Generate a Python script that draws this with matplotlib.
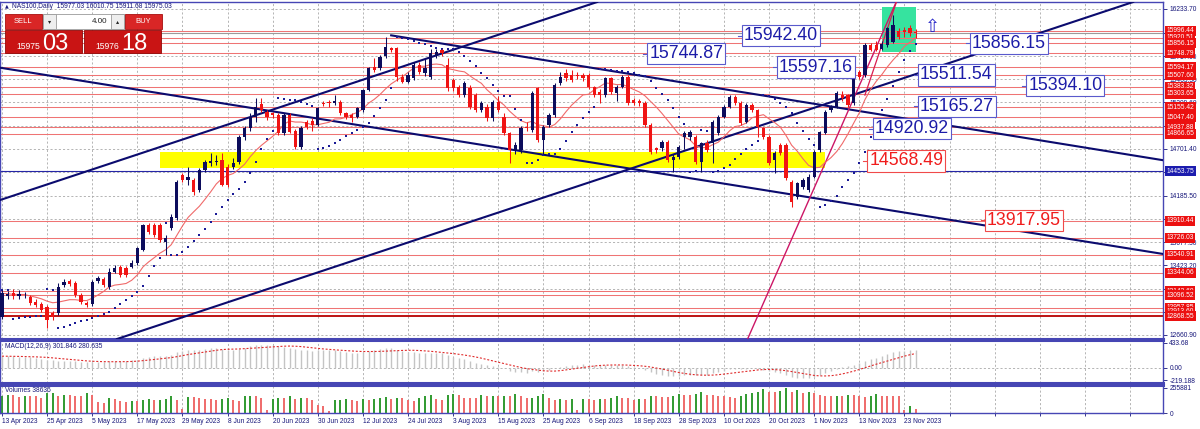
import numpy as np
import pandas as pd
import matplotlib
matplotlib.use("Agg")
import matplotlib.pyplot as plt
import matplotlib.transforms as mtransforms
from matplotlib.patches import Rectangle

plt.rcParams['font.family'] = ['Liberation Sans', 'DejaVu Sans']

# ---------------- data ----------------
date_labels = ["13 Apr 2023", "25 Apr 2023", "5 May 2023", "17 May 2023", "29 May 2023",
               "8 Jun 2023", "20 Jun 2023", "30 Jun 2023", "12 Jul 2023", "24 Jul 2023",
               "3 Aug 2023", "15 Aug 2023", "25 Aug 2023", "6 Sep 2023", "18 Sep 2023",
               "28 Sep 2023", "10 Oct 2023", "20 Oct 2023", "1 Nov 2023", "13 Nov 2023",
               "23 Nov 2023"]

opens = [12862, 13085, 13125, 13085, 13095, 13080, 13025, 13000, 12970, 12900,
         12898, 13210, 13250, 13227, 13100, 13015, 12998, 13250, 13280, 13190,
         13355, 13410, 13400, 13410, 13446, 13592, 13866, 13866, 13866, 13680,
         13830, 13940, 14414, 14360, 14360, 14250, 14470, 14550, 14560, 14579,
         14506, 14506, 14553, 14827, 14926, 15053, 15190, 15108, 15090, 15072,
         14871, 15072, 14900, 14725, 14999, 15010, 14962, 15207, 15215, 15200,
         15218, 15090, 15072, 15053, 15127, 15346, 15601, 15583, 15720, 15802,
         15802, 15492, 15437, 15474, 15620, 15528, 15492, 15729, 15784, 15620,
         15455, 15375, 15291, 15364, 15291, 15127, 15163, 15035, 15218, 15053,
         14871, 14688, 14688, 14944, 14907, 15364, 14798, 14962, 15072, 15419,
         15528, 15510, 15515, 15510, 15510, 15375, 15327, 15291, 15474, 15309,
         15382, 15492, 15236, 15230, 15200, 14962, 14706, 14706, 14779, 14579,
         14615, 14834, 14834, 14834, 14560, 14761, 14761, 14871, 15053, 15163,
         15273, 15200, 14999, 15181, 15127, 14926, 14834, 14579, 14743, 14743,
         14341, 14177, 14286, 14250, 14396, 14688, 14871, 15127, 15163, 15291,
         15291, 15200, 15547, 15510, 15839, 15839, 15800, 15839, 15876, 15996,
         16000, 16021, 15977.03]
highs = [13150, 13140, 13160, 13150, 13130, 13100, 13050, 13020, 12990, 12920,
         13230, 13280, 13275, 13250, 13120, 13030, 13260, 13310, 13300, 13390,
         13430, 13430, 13420, 13480, 13630, 13880, 13890, 13885, 13890, 13760,
         13990, 14360, 14440, 14500, 14380, 14490, 14580, 14660, 14630, 14660,
         14530, 14600, 14850, 14950, 15090, 15254, 15255, 15130, 15110, 15090,
         15090, 15095, 14920, 14950, 15020, 15040, 15160, 15230, 15240, 15290,
         15240, 15110, 15090, 15160, 15360, 15600, 15700, 15730, 15930, 15820,
         15820, 15520, 15540, 15650, 15650, 15690, 15790, 15800, 15800, 15700,
         15480, 15400, 15440, 15400, 15310, 15230, 15190, 15240, 15280, 15090,
         14890, 14780, 14950, 14990, 15330, 15380, 14960, 15090, 15420, 15540,
         15580, 15560, 15540, 15530, 15530, 15390, 15360, 15490, 15490, 15400,
         15510, 15510, 15260, 15250, 15220, 14980, 14720, 14800, 14800, 14640,
         14740, 14900, 14910, 14850, 14780, 14800, 15020, 15070, 15180, 15290,
         15290, 15220, 15200, 15200, 15140, 14940, 14850, 14680, 14760, 14760,
         14360, 14340, 14380, 14420, 14690, 14900, 15130, 15180, 15330, 15330,
         15300, 15510, 15560, 15860, 15860, 15880, 15880, 16040, 16170, 16030,
         16040, 16060, 16010.75]
lows = [12840, 13060, 13060, 13050, 13070, 12990, 12970, 12910, 12740, 12830,
        12880, 13190, 13200, 13080, 13000, 12970, 12980, 13230, 13190, 13170,
        13340, 13300, 13300, 13390, 13430, 13580, 13770, 13740, 13680, 13540,
        13810, 13920, 14340, 14300, 14200, 14230, 14450, 14510, 14520, 14290,
        14280, 14480, 14530, 14798, 14900, 15000, 15100, 15020, 15040, 14850,
        14850, 14870, 14700, 14700, 14920, 14900, 14950, 15170, 15160, 15180,
        15070, 15030, 15000, 15040, 15110, 15330, 15540, 15570, 15700, 15760,
        15450, 15420, 15420, 15460, 15520, 15500, 15470, 15700, 15720, 15340,
        15330, 15270, 15270, 15140, 15100, 15100, 15010, 15010, 15100, 14850,
        14542, 14640, 14660, 14900, 14890, 14780, 14640, 14940, 15050, 15400,
        15450, 15430, 15470, 15450, 15360, 15270, 15200, 15270, 15300, 15230,
        15370, 15180, 15180, 15170, 14940, 14650, 14660, 14680, 14560, 14451,
        14590, 14700, 14800, 14540, 14451, 14670, 14542, 14850, 15040, 15150,
        15180, 14960, 14980, 15100, 14834, 14810, 14520, 14433, 14630, 14360,
        14067, 14150, 14260, 14230, 14380, 14670, 14860, 15100, 15150, 15230,
        15160, 15180, 15470, 15490, 15770, 15770, 15780, 15820, 15860, 15900,
        15930, 15940, 15911.68]
closes = [13117, 13110, 13090, 13105, 13100, 13010, 12990, 12935, 12825, 12860,
          13190, 13245, 13220, 13100, 13025, 12990, 13245, 13290, 13210, 13355,
          13400, 13320, 13320, 13455, 13610, 13866, 13793, 13757, 13702, 13720,
          13958, 14341, 14360, 14390, 14232, 14470, 14560, 14565, 14570, 14305,
          14305, 14550, 14834, 14926, 15053, 15163, 15126, 15053, 15070, 14871,
          15072, 14889, 14725, 14926, 14944, 14962, 15145, 15190, 15200, 15230,
          15090, 15053, 15035, 15145, 15346, 15583, 15565, 15711, 15821, 15780,
          15492, 15437, 15510, 15620, 15547, 15583, 15748, 15766, 15748, 15364,
          15364, 15291, 15419, 15163, 15127, 15200, 15035, 15218, 15127, 14871,
          14688, 14740, 14926, 14926, 15309, 14798, 14944, 15072, 15401, 15492,
          15474, 15455, 15500, 15474, 15382, 15291, 15291, 15474, 15327, 15382,
          15492, 15200, 15200, 15205, 14962, 14670, 14688, 14779, 14579, 14615,
          14725, 14871, 14889, 14560, 14761, 14688, 14999, 15053, 15163, 15273,
          15200, 14980, 15181, 15127, 14944, 14834, 14542, 14652, 14652, 14378,
          14122, 14323, 14359, 14396, 14670, 14889, 15108, 15163, 15309, 15254,
          15181, 15492, 15492, 15839, 15784, 15784, 15850, 16021, 16058, 15930,
          15985, 15967, 15975.03]

volumes_k = [167, 183, 180, 157, 173, 173, 167, 150, 200, 206,
             167, 183, 183, 176, 176, 206, 183, 107, 100, 150,
             140, 117, 107, 117, 117, 133, 140, 127, 133, 143,
             167, 133, 40, 160, 157, 150, 143, 143, 133, 140,
             147, 133, 123, 167, 173, 167, 150, 33, 143, 150,
             150, 173, 143, 150, 150, 133, 83, 73, 17, 127,
             133, 140, 133, 117, 140, 133, 143, 150, 160, 140,
             150, 150, 133, 117, 150, 173, 180, 140, 127, 180,
             190, 183, 150, 150, 150, 183, 167, 173, 167, 176,
             176, 190, 167, 147, 150, 167, 190, 150, 133, 143,
             133, 143, 33, 140, 140, 133, 140, 140, 147, 167,
             150, 150, 133, 140, 140, 167, 167, 157, 157, 167,
             190, 186, 183, 193, 216, 183, 183, 167, 167, 160,
             150, 176, 190, 200, 216, 240, 216, 213, 223, 256,
             216, 233, 200, 216, 206, 183, 176, 167, 173, 173,
             183, 183, 173, 160, 176, 190, 176, 173, 167, 167,
             33, 73, 38.636]

macd_hist = [200, 198, 195, 190, 185, 178, 168, 155, 140, 125,
             118, 115, 112, 108, 100, 92, 95, 100, 100, 108,
             115, 118, 120, 125, 140, 170, 190, 200, 205, 205,
             220, 265, 290, 305, 305, 315, 330, 340, 345, 330,
             315, 312, 330, 350, 370, 390, 395, 395, 390, 370,
             365, 350, 325, 315, 305, 295, 300, 300, 300, 300,
             285, 270, 255, 250, 265, 295, 305, 320, 340, 335,
             300, 285, 270, 265, 260, 250, 255, 255, 250, 215,
             185, 160, 145, 115, 90, 70, 45, 30, 15, -10,
             -50, -75, -80, -85, -55, -70, -65, -40, -5, 15,
             35, 45, 55, 60, 55, 45, 40, 45, 40, 40,
             50, 30, 15, 0, -35, -80, -105, -120, -140, -145,
             -140, -130, -120, -130, -125, -120, -100, -80, -55, -30,
             -20, -25, -15, -10, -20, -35, -60, -80, -95, -125,
             -160, -170, -175, -180, -160, -130, -90, -55, -15, 10,
             25, 55, 80, 120, 150, 175, 200, 235, 265, 285,
             295, 300, 301.846]

level_prices = [15996.44, 15920.51, 15856.15, 15748.79, 15594.17, 15507.60, 15383.32,
                15303.65, 15155.42, 15047.40, 14937.88, 14866.65, 13910.44, 13726.03,
                13540.91, 13344.06, 13142.60, 13096.52, 12957.85, 12913.60, 12868.55]
blue_level = 14453.75
grid_prices = [16233.70, 15975.35, 15717.00, 15463.30, 15209.60, 14955.50, 14701.40,
               14443.45, 14185.50, 13931.40, 13677.30, 13423.20, 13169.10, 12915.00,
               12660.90]
grid_label_shown = [True, False, True, True, True, False, True,
                    False, True, False, True, True, False, False, True]

# trend lines: two anchor points (bar, price)
navy_lines = [((0, 15587), (100, 14597)),
              ((0, 14147), (100, 16197)),
              ((30, 12814), (150, 15274))]
navy_ray = ((69, 15945), (130, 15335))
magenta_line = ((134, 12870), (156, 15954))
magenta_ray = ((153, 15290), (158.7, 16332))

yellow_zone = (28, 146, 14491, 14666)
green_zone = (156, 162, 15762, 16260)

label_prices = [15744.87, 15942.40, 15597.16, 15856.15, 15511.54, 15394.10, 15165.27,
                14920.92, 14568.49, 13917.95]
label_bars = [113.7, 130.5, 136.7, 170.9, 161.7, 180.9, 161.7, 153.7, 152.7, 173.6]
label_red = [False, False, False, False, False, False, False, False, True, True]

arrow_pos = (165, 16036)
bid_price, ask_price = 15975.03, 15976.18
lot = "4.00"

# ---------------- figure ----------------
W, H = 1200, 429
fig = plt.figure(figsize=(W / 100, H / 100), dpi=100)
NAVY = '#17177a'
GRID = '#a8a8a8'
BULL = '#0c0c5c'
BEAR = '#f01414'
FS = 4.8


def px_axes(x0, y0, x1, y1):
    return fig.add_axes([x0 / W, 1 - y1 / H, (x1 - x0) / W, (y1 - y0) / H])


ax = px_axes(0, 2, 1163, 339)
ax_m = px_axes(0, 340, 1163, 383)
ax_v = px_axes(0, 385, 1163, 413)

n = len(closes)
x = np.arange(n)
o = np.array(opens, float)
hi = np.array(highs, float)
lo = np.array(lows, float)
c = np.array(closes, float)
xlim = (-0.355, 205.85)
grid_bars = np.arange(0, 208, 8)


def sar_calc(high, low, step=0.02, max_step=0.2):
    out = np.zeros(len(high))
    bull = False
    af = step
    ep = low[0]
    out[0] = high[0]
    for i in range(1, len(high)):
        s = out[i - 1] + af * (ep - out[i - 1])
        j = max(i - 2, 0)
        if bull:
            s = min(s, low[i - 1], low[j])
            if low[i] < s:
                bull, s, ep, af = False, ep, low[i], step
            elif high[i] > ep:
                ep, af = high[i], min(af + step, max_step)
        else:
            s = max(s, high[i - 1], high[j])
            if high[i] > s:
                bull, s, ep, af = True, ep, high[i], step
            elif low[i] < ep:
                ep, af = low[i], min(af + step, max_step)
        out[i] = s
    return out


def ray(a, p1, p2, **kw):
    (b1, v1), (b2, v2) = p1, p2
    k = (v2 - v1) / (b2 - b1)
    a.plot([b1, xlim[1]], [v1, v1 + k * (xlim[1] - b1)], **kw)


for a in (ax, ax_m, ax_v):
    a.set_xlim(*xlim)
    a.set_xticks(grid_bars)
    a.grid(True, axis='x', color=GRID, ls=(0, (2.5, 2.5)), lw=0.6)
    a.yaxis.tick_right()
    a.tick_params(axis='y', labelsize=FS, colors=NAVY, length=3, width=0.6, pad=1.5)
    a.tick_params(axis='x', length=0, labelbottom=False)
    for s in a.spines.values():
        s.set_color('#4646b4')
        s.set_linewidth(1.0)
    a.set_axisbelow(True)

# ---- main window ----
ax.set_ylim(12617, 16310.4)
ax.set_yticks(grid_prices)
ax.set_yticklabels([f"{p:.2f}" if show else "" for p, show in zip(grid_prices, grid_label_shown)])
ax.grid(True, axis='y', color=GRID, ls=(0, (2.5, 2.5)), lw=0.6)
ax.spines['bottom'].set_linewidth(2.2)

yz = yellow_zone
ax.add_patch(Rectangle((yz[0], yz[2]), yz[1] - yz[0], yz[3] - yz[2], fc='#ffff00', ec='none', zorder=1))
gz = green_zone
ax.add_patch(Rectangle((gz[0], gz[2]), gz[1] - gz[0], gz[3] - gz[2], fc='#36e39f', ec='none', zorder=1))

for p in level_prices[:-1]:
    ax.axhline(p, color='#ef7474', lw=0.75, zorder=2)
ax.axhline(level_prices[-1], color='#b80000', lw=1.3, zorder=2)
ax.axhline(blue_level, color='#2626a6', lw=0.8, zorder=2)
ax.axhline(closes[-1], color='#9a9a9a', lw=0.8, zorder=2)

for p1, p2 in navy_lines:
    ax.axline(p1, p2, color='#0b0b6e', lw=1.5, zorder=3)
ray(ax, *navy_ray, color='#0b0b6e', lw=1.5, zorder=3)
ax.axline(*magenta_line, color='#cc1666', lw=1.0, zorder=3)
ray(ax, *magenta_ray, color='#d81c50', lw=0.9, zorder=3)

ma = pd.Series(c).rolling(10, min_periods=1).mean()
ax.plot(x, ma, color='#f06a6a', lw=0.8, zorder=3)
sar = sar_calc(hi, lo)
ax.scatter(x, sar, s=2.2, marker='s', color='#1a1a96', lw=0, zorder=4)

col = np.where(c >= o, BULL, BEAR)
ax.vlines(x, lo, hi, colors=col, lw=0.75, zorder=5)
ax.bar(x, np.maximum(np.abs(c - o), 9), bottom=np.minimum(o, c), width=0.58, color=col,
       lw=0, zorder=5)

for p, b, red in zip(label_prices, label_bars, label_red):
    tc = '#f01c1c' if red else '#1c1ca8'
    ec = '#f04a4a' if red else '#5a5acc'
    ax.plot([b, b + 0.9], [p, p], color=ec, lw=0.8, zorder=7)
    ax.text(b + 1.05, p, f"{p:.2f}", fontsize=12.8, color=tc, ha='left', va='center', zorder=8,
            bbox=dict(boxstyle='square,pad=0.12', fc='white', ec=ec, lw=0.8))

ax.text(arrow_pos[0], arrow_pos[1], "\u21e7", fontsize=13, color='#2424c8', ha='center',
        va='center', family=['DejaVu Sans'], zorder=8)

tr = mtransforms.blended_transform_factory(ax.transAxes, ax.transData)
for p in level_prices:
    ax.text(1.003, p, f"{p:.2f}", transform=tr, fontsize=FS, color='white', ha='left',
            va='center', clip_on=False, zorder=10,
            bbox=dict(boxstyle='square,pad=0.22', fc='#ec1010', ec='none'))
ax.text(1.003, blue_level, f"{blue_level:.2f}", transform=tr, fontsize=FS, color='white',
        ha='left', va='center', clip_on=False, zorder=10,
        bbox=dict(boxstyle='square,pad=0.22', fc='#1c1cae', ec='none'))

# ---- MACD window ----
ax_m.set_ylim(-265, 480)
ax_m.vlines(x, 0, macd_hist, color='#c4c4c4', lw=1.0, zorder=2)
signal = pd.Series(macd_hist).rolling(9, min_periods=1).mean()
ax_m.plot(x, signal, color='#e02a2a', ls=(0, (1.8, 1.6)), lw=0.8, zorder=3)
ax_m.axhline(0, color=GRID, ls=(0, (2.5, 2.5)), lw=0.6, zorder=1)
ax_m.set_yticks([433.68, 0, -219.188])
ax_m.set_yticklabels(["433.68", "0.00", "-219.188"])
ax_m.spines['top'].set_linewidth(2.2)
ax_m.spines['bottom'].set_linewidth(2.2)
ax_m.text(0.004, 0.93, "MACD(12,26,9) 301.846 280.635", transform=ax_m.transAxes,
          fontsize=FS, color=NAVY, va='top', ha='left')

# ---- Volumes window ----
vol = np.array(volumes_k) * 1000
vcol = np.where(np.r_[True, vol[1:] > vol[:-1]], '#2f9a2f', '#ef6a6a')
ax_v.set_ylim(0, 283000)
ax_v.vlines(x, 0, vol, colors=vcol, lw=1.4, zorder=2)
ax_v.set_yticks([255881, 0])
ax_v.set_yticklabels(["255881", "0"])
ax_v.spines['top'].set_linewidth(2.2)
ax_v.text(0.004, 0.93, f"Volumes {int(round(vol[-1]))}", transform=ax_v.transAxes,
          fontsize=FS, color=NAVY, va='top', ha='left')
ax_v.tick_params(axis='x', labelbottom=True, labelsize=FS, colors=NAVY, length=2.5,
                 width=0.6, pad=1.2, direction='out')
ax_v.set_xticklabels(date_labels + [''] * (len(grid_bars) - len(date_labels)))
for t in ax_v.get_xticklabels():
    t.set_ha('left')

# ---- header and one-click trading panel (pixel overlay) ----
ov = fig.add_axes([0, 0, 1, 1])
ov.set_xlim(0, W)
ov.set_ylim(H, 0)
ov.axis('off')
ov.text(5, 6, "\u25b2", fontsize=3.5, color=NAVY, va='center', family=['DejaVu Sans'])
ov.text(12, 6, f"NAS100,Daily  {opens[-1]:.2f} {highs[-1]:.2f} {lows[-1]:.2f} {closes[-1]:.2f}",
        fontsize=FS, color=NAVY, va='center')

ov.add_patch(Rectangle((5, 14), 37, 15, fc='#d92626', ec='#a80e0e', lw=0.6))
ov.text(23, 21.5, "SELL", fontsize=5.5, color='white', ha='center', va='center')
ov.add_patch(Rectangle((43, 14), 81, 15, fc='white', ec='#9a9a9a', lw=0.6))
ov.add_patch(Rectangle((43, 14), 13, 15, fc='#eeeeee', ec='#9a9a9a', lw=0.6))
ov.add_patch(Rectangle((111, 14), 13, 15, fc='#eeeeee', ec='#9a9a9a', lw=0.6))
ov.text(49.5, 21.5, "\u25be", fontsize=4.5, color='#222222', ha='center', va='center',
        family=['DejaVu Sans'])
ov.text(117.5, 21.5, "\u25b4", fontsize=4.5, color='#222222', ha='center', va='center',
        family=['DejaVu Sans'])
ov.text(107, 21.5, lot, fontsize=5.8, color='#222222', ha='right', va='center')
ov.add_patch(Rectangle((125, 14), 37, 15, fc='#d92626', ec='#a80e0e', lw=0.6))
ov.text(143.5, 21.5, "BUY", fontsize=5.5, color='white', ha='center', va='center')

for x0, price in ((5, bid_price), (84, ask_price)):
    ov.add_patch(Rectangle((x0, 30), 77, 23, fc='#c91414', ec='#8e0a0a', lw=0.6))
    big = f"{price:.2f}"
    ov.text(x0 + 35, 49, big[:5], fontsize=6.2, color='white', ha='right', va='baseline')
    ov.text(x0 + 37, 50, big[6:], fontsize=17, color='white', ha='left', va='baseline')

fig.savefig("out.png", dpi=100)
